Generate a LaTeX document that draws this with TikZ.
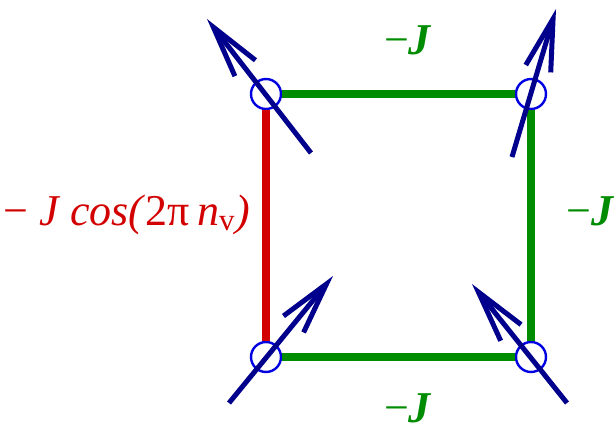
\documentclass[tikz,border=0pt]{standalone}
\usepackage{fontspec}
\setmainfont{Liberation Serif}
\usetikzlibrary{arrows.meta, calc}

\definecolor{bondred}{RGB}{210,0,0}
\definecolor{bondgreen}{RGB}{0,140,0}
\definecolor{spinblue}{RGB}{0,0,140}
\definecolor{siteblue}{RGB}{0,0,225}

\begin{document}
\begin{tikzpicture}[
    x=1pt, y=-1pt,
    site/.style={circle, draw=siteblue, line width=2.4pt, minimum size=30pt, inner sep=0pt},
    bond/.style={line width=8.5pt, bondgreen},
    vbond/.style={line width=8.5pt, bondred},
    spin/.style={-{Straight Barb[length=52pt, width=26pt, line width=5pt]}, line width=5pt, spinblue},
    lbl/.style={font=\fontsize{44}{52}\selectfont, inner sep=0pt}
]
\useasboundingbox (0,0) rectangle (616,436);

% lattice sites
\node[site] (tl) at (266,94)  {};
\node[site] (tr) at (531,94)  {};
\node[site] (bl) at (266,357) {};
\node[site] (br) at (531,357) {};

% bonds of the plaquette
\draw[bond]  (tl) -- (tr);
\draw[bond]  (tr) -- (br);
\draw[bond]  (bl) -- (br);
\draw[vbond] (tl) -- (bl);

% couplings
\node[lbl, text=bondgreen, anchor=base] (jtop) at (408,55)  {−\textbf{\textit{J}}};
\node[lbl, text=bondgreen, anchor=base] (jbot) at (408,422) {−\textbf{\textit{J}}};
\node[lbl, text=bondgreen, anchor=base east] (jright) at (615,225) {−\textbf{\textit{J}}};
\node[lbl, text=bondred, anchor=base east] (jleft) at (250,225)
    {− \textit{J cos(}2π\,\textit{n}\textsubscript{v}\textit{)}};

% spins
\draw[spin] ($(tl)+(45,59)$)  -- ($(tl)+(-59,-75)$);
\draw[spin] ($(tr)+(-19,63)$) -- ($(tr)+(25,-85)$);
\draw[spin] ($(bl)+(-37,46)$) -- ($(bl)+(67,-81)$);
\draw[spin] ($(br)+(36,46)$)  -- ($(br)+(-59,-73)$);

\end{tikzpicture}
\end{document}
